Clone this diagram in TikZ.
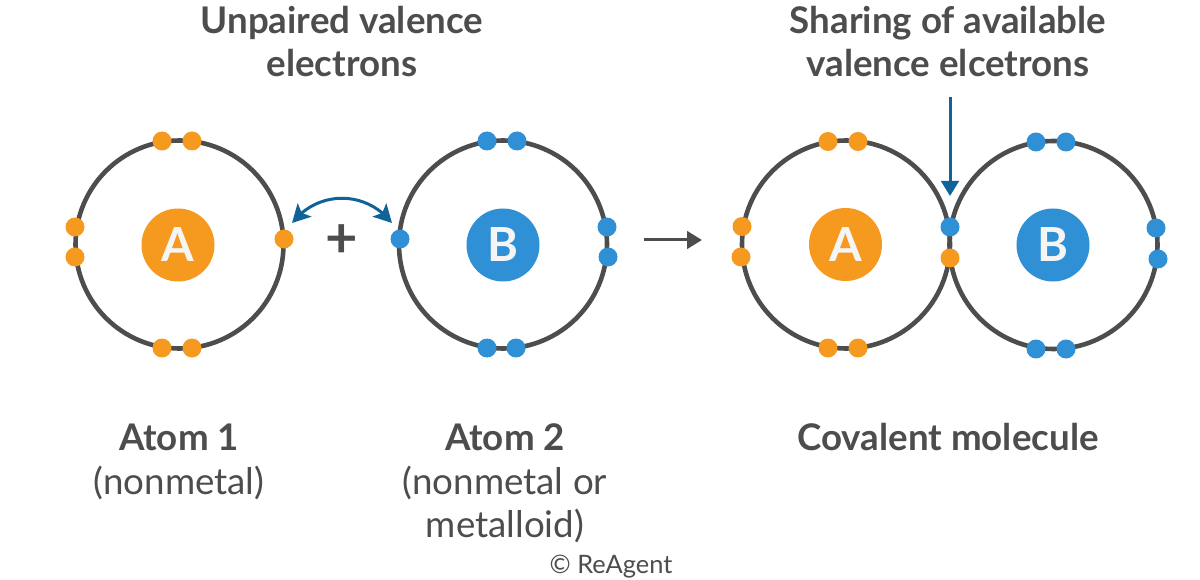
\documentclass[tikz,border=0pt]{standalone}
\usepackage{fontspec}
\setmainfont{Lato}
\usetikzlibrary{arrows.meta,bending}
\definecolor{orangeC}{HTML}{F6991F}
\definecolor{blueC}{HTML}{3090D5}
\definecolor{ringC}{HTML}{4D4D4D}
\definecolor{arrowC}{HTML}{0F6399}
\definecolor{textC}{HTML}{4D4D4D}
\tikzset{x=1pt,y=-1pt,
 ring/.style={circle,draw=ringC,line width=4.6pt,minimum size=208pt,inner sep=0pt,outer sep=0pt},
 eo/.style={circle,fill=orangeC,minimum size=19pt,inner sep=0pt},
 eb/.style={circle,fill=blueC,minimum size=19pt,inner sep=0pt},
 core/.style={circle,minimum size=73pt,inner sep=0pt,text=white!96!black,font=\fontsize{47}{47}\selectfont},
 lab/.style={text=textC,align=center,font=\fontsize{36.7}{43}\selectfont},
 blab/.style={text=textC,align=center,font=\fontsize{36.7}{43}\selectfont\bfseries},
 curvehead/.tip={Stealth[length=18pt,width=19pt,inset=4pt,flex]},
 blueline/.style={draw=arrowC,line width=3pt}
}
\begin{document}
\begin{tikzpicture}
\useasboundingbox (0,0) rectangle (1200,580);
\fill[white] (0,0) rectangle (1200,580);
\node[ring] (r1) at (179.5,244.5) {};
\node[ring] (r2) at (503,244.5) {};
\node[ring] (r3) at (846,244.5) {};
\node[ring] (r4) at (1053.5,245) {};
\node[core,fill=orangeC] (A1) at (178,245) {\textbf{A}};
\node[core,fill=blueC] (B1) at (503,245) {\textbf{B}};
\node[core,fill=orangeC] (A2) at (845.5,244.5) {\textbf{A}};
\node[core,fill=blueC] (B2) at (1053,245) {\textbf{B}};
\foreach \n/\x/\y in {a/162/141,b/192/141,c/75/227,d/75/257,e/162/348,f/192/348,g/284/239,
 h/828/141.5,i/858/141.5,j/742/226.5,k/741/257,l/828/348,m/858/348,n/950/258}
 \node[eo] (o\n) at (\x,\y) {};
\foreach \n/\x/\y in {a/487/141,b/517/141,c/607/227,d/608/257,e/487/348,f/516/348,g/400/239,
 h/1036/142,i/1066/142,j/1156/228,k/1158/259,l/1036/349,m/1066/349,n/950/227}
 \node[eb] (b\n) at (\x,\y) {};
\node[blab] (t1) at (342,42) {Unpaired valence\\electrons};
\node[blab] (t2) at (948,42) {Sharing of available\\valence elcetrons};
\node[blab] (t3) at (179,437) {Atom 1};
\node[lab] (t4) at (179,482.5) {(nonmetal)};
\node[blab] (t5) at (505,437) {Atom 2};
\node[lab] (t6) at (505,504.5) {(nonmetal or\\metalloid)};
\node[blab] (t7) at (948,437) {Covalent molecule};
\node[text=textC,font=\fontsize{25.4}{30}\selectfont] (t8) at (611,567) {© ReAgent};
\node[text=textC,font=\fontsize{56}{56}\selectfont\bfseries] (plus) at (342,241.5) {+};
\coordinate (u1) at (292,223);
\coordinate (u2) at (392,223);
\draw[blueline,curvehead-curvehead] (u1) .. controls (318,190) and (366,190) .. (u2);
\coordinate (s1) at (950,97);
\coordinate (s2) at (950,196);
\draw[blueline,-{Triangle[length=15pt,width=17.5pt]}] (s1) -- (s2);
\coordinate (g1) at (644,240);
\coordinate (g2) at (702,240);
\draw[draw=ringC,line width=3pt,-{Triangle[length=15pt,width=17.5pt]}] (g1) -- (g2);
\end{tikzpicture}
\end{document}
